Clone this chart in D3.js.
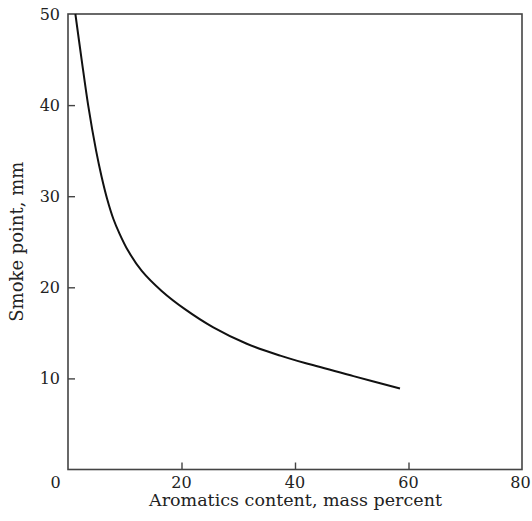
<!DOCTYPE html>
<html>
<head>
<meta charset="utf-8">
<script src="https://cdn.jsdelivr.net/npm/d3@7"></script>
<style>
body { margin: 0; background: #fff; }
svg text { font-family: "DejaVu Serif", serif; fill: #222; }
</style>
</head>
<body>
<svg id="chart" width="532" height="521"></svg>
<script>
const aromatics = [1.3, 2.4, 3.55, 4.95, 5.9, 6.9, 8.0, 9.0, 10.6, 13.0, 16.5, 20.6, 25.6, 31.5, 37.4, 42.6, 50.3, 58.5];
const smokePoint = [50, 45, 40, 35, 32.2, 29.7, 27.5, 26.0, 24.0, 21.8, 19.6, 17.6, 15.6, 13.8, 12.5, 11.55, 10.25, 8.9];
const xTicks = [0, 20, 40, 60, 80];
const yTicks = [10, 20, 30, 40, 50];
const xLabel = "Aromatics content, mass percent";
const yLabel = "Smoke point, mm";

(function () {
const svg = d3.select("#chart");
const mLeft = 68, mRight = 522, mTop = 14, mBottom = 469.5;
const x = d3.scaleLinear().domain([0, 80]).range([mLeft, mRight]);
const y = d3.scaleLinear().domain([0, 50]).range([mBottom, mTop]);
const axisColor = "#444";

// frame
svg.append("rect").attr("x", mLeft).attr("y", mTop)
  .attr("width", mRight - mLeft).attr("height", mBottom - mTop)
  .attr("fill", "none").attr("stroke", axisColor).attr("stroke-width", 1.6);

// x ticks (inward)
const gx = svg.append("g").attr("transform", `translate(0,${mBottom})`)
  .call(d3.axisTop(x).tickValues(xTicks.filter(d => d > 0 && d < 80)).tickSize(7).tickFormat(""));
gx.select(".domain").remove();
gx.selectAll("line").attr("stroke", axisColor).attr("stroke-width", 1.4);

// y ticks (inward)
const gy = svg.append("g").attr("transform", `translate(${mLeft},0)`)
  .call(d3.axisRight(y).tickValues(yTicks.filter(d => d < 50)).tickSize(7).tickFormat(""));
gy.select(".domain").remove();
gy.selectAll("line").attr("stroke", axisColor).attr("stroke-width", 1.4);

// x tick labels
svg.selectAll(".xl").data(xTicks).enter().append("text")
  .attr("x", d => d === 0 ? x(d) - 12.5 : (d === 80 ? x(d) - 1.5 : x(d)))
  .attr("y", mBottom + 18)
  .attr("text-anchor", "middle").attr("font-size", 16)
  .text(d => d);

// y tick labels
svg.selectAll(".yl").data(yTicks).enter().append("text")
  .attr("x", mLeft - 8).attr("y", d => y(d)).attr("dy", "0.36em")
  .attr("text-anchor", "end").attr("font-size", 16)
  .text(d => d);

// axis titles
svg.append("text").attr("x", 295.5).attr("y", mBottom + 36.5)
  .attr("text-anchor", "middle").attr("font-size", 17.5).text(xLabel);
svg.append("text").attr("transform", `translate(23,${(mTop + mBottom) / 2}) rotate(-90)`)
  .attr("text-anchor", "middle").attr("font-size", 18).text(yLabel);

// curve
const pts = aromatics.map((a, i) => [a, smokePoint[i]]);
svg.append("path").datum(pts)
  .attr("fill", "none").attr("stroke", "#111").attr("stroke-width", 2)
  .attr("d", d3.line().x(d => x(d[0])).y(d => y(d[1])).curve(d3.curveCatmullRom.alpha(0.5)));
})();
</script>
</body>
</html>
